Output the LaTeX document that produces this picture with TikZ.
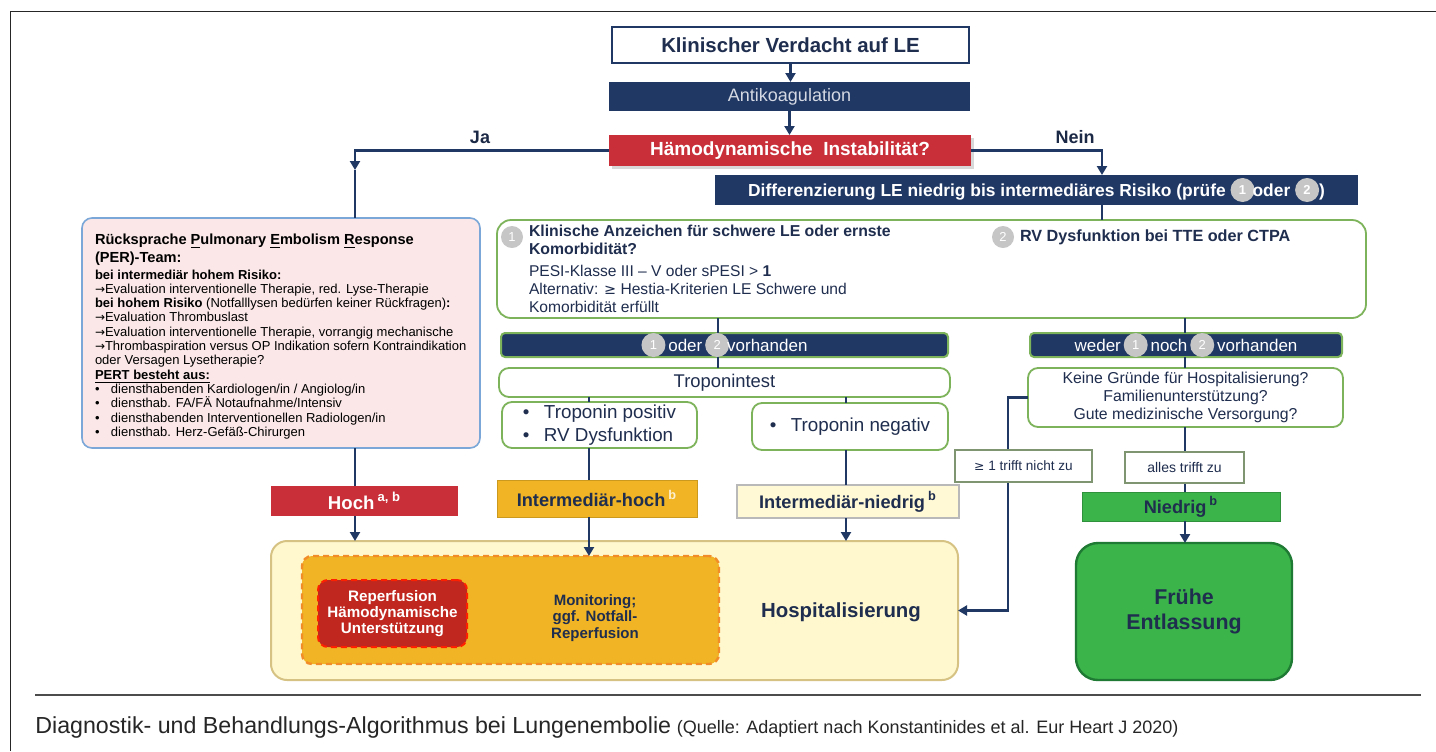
\documentclass[tikz,border=0pt]{standalone}
\usepackage{fontspec}
\setmainfont{Liberation Sans}
\newfontfamily\dv{DejaVu Sans}
\usetikzlibrary{arrows.meta,shadows}
\definecolor{navy}{HTML}{203864}
\definecolor{linenavy}{HTML}{1F3864}
\definecolor{textnavy}{HTML}{1F2D4E}
\definecolor{antitext}{HTML}{D4D9E3}
\definecolor{hred}{HTML}{C92F38}
\definecolor{orng}{HTML}{F0B424}
\definecolor{dashorange}{HTML}{F28C28}
\definecolor{dred}{HTML}{C0271F}
\definecolor{hospfill}{HTML}{FFF8CF}
\definecolor{hospborder}{HTML}{D6C383}
\definecolor{inlfill}{HTML}{FFF9D6}
\definecolor{ngreen}{HTML}{3BB54A}
\definecolor{dgreen}{HTML}{1F7A33}
\definecolor{lgreen}{HTML}{7DB35A}
\definecolor{perfill}{HTML}{FBE7E7}
\definecolor{perborder}{HTML}{7BA7D8}
\definecolor{cgray}{HTML}{C6C6C6}
\newcommand{\cnum}[2][11.5pt]{\tikz[baseline=-0.75ex,x=1pt,y=1pt]\node[circle,fill=cgray,text=white,inner sep=0pt,minimum size=#1,font=\fontsize{6.5}{6.5}\selectfont]{#2};}
\begin{document}
\begin{tikzpicture}[x=0.5pt,y=-0.5pt,
  wh/.style 2 args={minimum width=#1*0.5pt,minimum height=#2*0.5pt},
  ln/.style={draw=linenavy,line width=1.1pt},
  arr/.style={ln,-{Triangle[length=4.5pt,width=5pt]}},
  bx/.style={inner sep=0pt,outer sep=0pt,align=center},
  gbox/.style={bx,draw=lgreen,line width=0.9pt,fill=white,rounded corners=5pt,text=textnavy},
  nbox/.style={bx,fill=navy,draw=lgreen,line width=1pt,rounded corners=2pt,text=white,font=\fontsize{8.5}{9}\selectfont},
  txt/.style={inner sep=0pt,outer sep=0pt,text=textnavy}]
\useasboundingbox (0,0) rectangle (1436,751);
\fill[white] (0,0) rectangle (1436,751);
\draw[line width=0.9pt,black!85] (10.5,751) -- (10.5,11.5) -- (1436,11.5);

% top chain
\node[bx,draw=navy,line width=1.2pt,fill=white,text=textnavy,font=\bfseries\fontsize{10.2}{11}\selectfont,wh={357}{36}] (kv) at (790.5,45) {Klinischer Verdacht auf LE};
\node[bx,fill=navy,text=antitext,font=\fontsize{9}{10}\selectfont,wh={361}{29}] (ak) at (789.5,96.5) {Antikoagulation};
\node[bx,fill=hred,text=white,font=\bfseries\fontsize{9.5}{10}\selectfont,wh={362}{31},drop shadow={opacity=0.3,shadow xshift=1.5pt,shadow yshift=-1.5pt}] (hi) at (790,150.5) {Hämodynamische\ \ Instabilität?};
\node[txt,text=textnavy!90!black,font=\bfseries\fontsize{9}{10}\selectfont] (ja) at (480,137) {Ja};
\node[txt,text=textnavy!90!black,font=\bfseries\fontsize{9}{10}\selectfont] (nein) at (1075,137) {Nein};
\node[bx,fill=navy,text=white,font=\bfseries\fontsize{8.7}{9}\selectfont,wh={643}{30}] (diff) at (1036.5,190) {Differenzierung LE niedrig bis intermediäres Risiko (prüfe \cnum[12pt]{1}\hspace{-1pt}oder \cnum[12pt]{2})};

% big box
\node[gbox,rounded corners=7pt,wh={869}{98}] (big) at (931.5,269) {};
\node[circle,fill=cgray,text=white,inner sep=0pt,minimum size=11pt,font=\fontsize{6.5}{6.5}\selectfont] (c1) at (512,237) {1};
\node[circle,fill=cgray,text=white,inner sep=0pt,minimum size=11pt,font=\fontsize{6.5}{6.5}\selectfont] (c2) at (1003,237) {2};
\node[txt,anchor=north west,align=left,font=\bfseries\fontsize{7.9}{9}\selectfont] (t1) at (529,225) {Klinische Anzeichen für schwere LE oder ernste\\Komorbidität?};
\node[txt,anchor=north west,align=left,font=\fontsize{7.8}{9}\selectfont] (t2) at (529,265) {PESI-Klasse III – V oder sPESI > \textbf{1}\\Alternativ: {\dv\fontsize{7.2}{9}\selectfont ≥} Hestia-Kriterien LE Schwere und\\Komorbidität erfüllt};
\node[txt,anchor=west,font=\bfseries\fontsize{8.1}{9}\selectfont] (t3) at (1020,237) {RV Dysfunktion bei TTE oder CTPA};

% PER box
\node[bx,draw=perborder,line width=0.8pt,fill=perfill,rounded corners=5pt,wh={398}{230}] (per) at (281,333) {};
\node[txt,anchor=north west,align=left,text=black,font=\fontsize{6.5}{7.15}\selectfont] (pert) at (95,234) {%
{\bfseries\fontsize{7.3}{8}\selectfont Rücksprache \underline{P}ulmonary \underline{E}mbolism \underline{R}esponse}\\[0.9pt]
{\bfseries\fontsize{7.3}{8}\selectfont (PER)-Team:}\\[0.9pt]
\textbf{bei intermediär hohem Risiko:}\\
{\dv\fontsize{6}{7}\selectfont →}Evaluation interventionelle Therapie, red. Lyse-Therapie\\
\textbf{bei hohem Risiko} (Notfalllysen bedürfen keiner Rückfragen)\textbf{:}\\
{\dv\fontsize{6}{7}\selectfont →}Evaluation Thrombuslast\\
{\dv\fontsize{6}{7}\selectfont →}Evaluation interventionelle Therapie, vorrangig mechanische\\
{\dv\fontsize{6}{7}\selectfont →}Thrombaspiration versus OP Indikation sofern Kontraindikation\\
oder Versagen Lysetherapie?\\
\textbf{\underline{PERT besteht aus:}}\\
\makebox[8pt][l]{•}diensthabenden Kardiologen/in / Angiolog/in\\
\makebox[8pt][l]{•}diensthab. FA/FÄ Notaufnahme/Intensiv\\
\makebox[8pt][l]{•}diensthabenden Interventionellen Radiologen/in\\
\makebox[8pt][l]{•}diensthab. Herz-Gefäß-Chirurgen};

% middle
\node[nbox,wh={447}{24}] (odv) at (724.5,345) {\cnum[12pt]{1}\,oder\,\cnum[12pt]{2}\hspace{-1pt}vorhanden};
\node[nbox,wh={312}{24}] (wnv) at (1186,345) {weder\,\cnum[12pt]{1}\,noch\,\cnum[12pt]{2}\,vorhanden};
\node[gbox,font=\fontsize{9.2}{10}\selectfont,wh={451}{29}] (tt) at (724.5,382.5) {Troponintest};
\node[gbox,align=left,font=\fontsize{9.4}{11.5}\selectfont,wh={195}{46}] (tp) at (599.5,425) {\makebox[10.5pt][l]{•}Troponin positiv\\\makebox[10.5pt][l]{•}RV Dysfunktion};
\node[gbox,font=\fontsize{9.4}{11}\selectfont,wh={196}{47}] (tn) at (850,426.5) {\makebox[10.5pt][l]{•}Troponin negativ};
\node[gbox,font=\fontsize{7.9}{9}\selectfont,wh={315}{59}] (kg) at (1185.5,397.5) {Keine Gründe für Hospitalisierung?\\Familienunterstützung?\\Gute medizinische Versorgung?};

% risk boxes
\node[bx,fill=hred,text=white,font=\bfseries\fontsize{9.3}{10}\selectfont,wh={187}{30}] (hoch) at (364.5,501) {Hoch\,\textsuperscript{a, b}};
\node[bx,fill=orng,draw=orng!85!black,line width=0.5pt,text=textnavy,font=\bfseries\fontsize{9.1}{10}\selectfont,wh={200}{37}] (ih) at (597,498.5) {Intermediär-hoch\,\textsuperscript{\color{white!80!orng}b}};
\node[bx,fill=inlfill,draw=gray!55,line width=0.6pt,text=textnavy,font=\bfseries\fontsize{9.1}{10}\selectfont,wh={222}{33}] (inl) at (848,501.5) {Intermediär-niedrig\,\textsuperscript{b}};
\node[bx,fill=ngreen,draw=ngreen!80!black,line width=0.5pt,text=textnavy,font=\bfseries\fontsize{9.1}{10}\selectfont,wh={198}{29}] (nied) at (1181,506.5) {Niedrig\,\textsuperscript{b}};

% outcome boxes
\node[bx,fill=hospfill,draw=hospborder,line width=1pt,rounded corners=8pt,wh={687}{139}] (hosp) at (614.5,610.5) {};
\node[bx,fill=orng,draw=dashorange,line width=1.2pt,dash pattern=on 3pt off 2pt,rounded corners=5pt,wh={417}{108}] (dsh) at (510.5,610) {};
\node[bx,fill=dred,draw=red!75!orange,line width=1pt,dash pattern=on 3pt off 2pt,rounded corners=5pt,text=white,font=\bfseries\fontsize{7.6}{8.2}\selectfont,wh={149}{67}] (red) at (392.5,613.5) {Reperfusion\\Hämodynamische\\Unterstützung};
\node[txt,align=center,font=\bfseries\fontsize{7.5}{8.2}\selectfont] (mon) at (595,618) {Monitoring;\\ggf. Notfall-\\Reperfusion};
\node[txt,font=\bfseries\fontsize{10.2}{11}\selectfont] (hosptxt) at (841,612) {Hospitalisierung};
\node[bx,fill=ngreen,draw=dgreen,line width=1.2pt,rounded corners=11pt,text=textnavy,font=\bfseries\fontsize{10.7}{12.5}\selectfont,wh={216}{137}] (fe) at (1184,611.5) {Frühe\\Entlassung};

% x positions of vertical connectors
\coordinate (xa) at (718,0);
\coordinate (xb) at (1185,0);
\coordinate (xc) at (589,0);
\coordinate (xd) at (846,0);
\coordinate (xe) at (355,0);
\coordinate (xf) at (1008,0);
\coordinate (jaend) at (355,170);
\coordinate (neinend) at (1102,175);

% connectors
\draw[arr] (kv.south) -- (kv.south |- ak.north);
\draw[arr] (ak.south) -- (ak.south |- hi.north);
\draw[arr] (hi.west) -| (jaend);
\draw[ln] (jaend) -- (jaend |- per.north);
\draw[arr] (hi.east) -| (neinend);
\draw[ln] (neinend |- diff.south) -- (neinend |- big.north);
\draw[ln] (big.south -| xa) -- (odv.north -| xa);
\draw[ln] (odv.south -| xa) -- (tt.north -| xa);
\draw[ln] (big.south -| xb) -- (wnv.north -| xb);
\draw[ln] (wnv.south -| xb) -- (kg.north -| xb);
\draw[ln] (tt.south -| xc) -- (tp.north -| xc);
\draw[ln] (tp.south -| xc) -- (ih.north -| xc);
\draw[arr] (ih.south -| xc) -- (dsh.north -| xc);
\draw[ln] (tt.south -| xd) -- (tn.north -| xd);
\draw[ln] (tn.south -| xd) -- (inl.north -| xd);
\draw[arr] (inl.south -| xd) -- (hosp.north -| xd);
\draw[ln] (per.south -| xe) -- (hoch.north -| xe);
\draw[arr] (hoch.south -| xe) -- (hosp.north -| xe);
\draw[arr] (kg.west) -- (kg.west -| xf) -- (xf |- hosp.east) -- (hosp.east);
\draw[ln] (kg.south -| xb) -- (nied.north -| xb);
\draw[arr] (nied.south -| xb) -- (fe.north -| xb);

% labels on connectors
\node[bx,fill=white,draw=gray!60!lgreen,line width=0.6pt,text=textnavy,font=\fontsize{6.8}{8}\selectfont,wh={137}{32}] (l1) at (1023.5,466) {{\dv\fontsize{6.2}{8}\selectfont ≥} 1 trifft nicht zu};
\node[bx,fill=white,draw=gray!60!lgreen,line width=0.6pt,text=textnavy,font=\fontsize{7}{8}\selectfont,wh={119}{31}] (atz) at (1184.5,467.5) {alles trifft zu};

% caption
\draw[line width=1pt,black!70] (35,695) -- (1421,695);
\node[inner sep=0pt,anchor=base west,text=black!85] (cap) at (35,733) {{\fontsize{11.6}{13}\selectfont Diagnostik- und Behandlungs-Algorithmus bei Lungenembolie} {\fontsize{9}{10}\selectfont (Quelle: Adaptiert nach Konstantinides et al. Eur Heart J 2020)}};
\end{tikzpicture}
\end{document}
